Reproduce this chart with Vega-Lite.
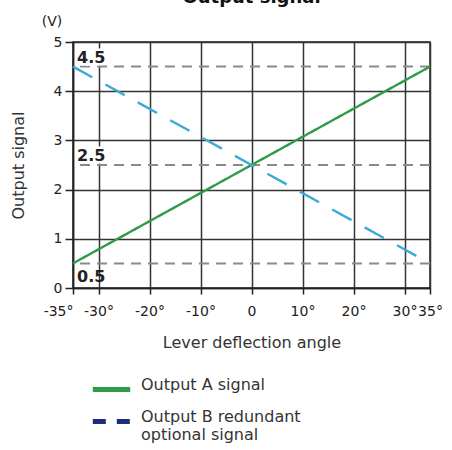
{
  "$schema": "https://vega.github.io/schema/vega-lite/v6.json",
  "width": 357,
  "height": 246,
  "autosize": {"type": "none"},
  "padding": {"left": 73, "top": 42, "right": 22, "bottom": 162},
  "config": {
    "font": "DejaVu Sans",
    "view": {"stroke": "#222", "strokeWidth": 1.5}
  },
  "title": {
    "text": "Output signal",
    "fontSize": 18,
    "fontWeight": "bold",
    "color": "#111",
    "frame": "group",
    "anchor": "middle",
    "offset": -6,
    "baseline": "alphabetic"
  },
  "datasets": {
    "lines": [
      {"angle": -35, "signal": 0.5, "series": "A"},
      {"angle": 35, "signal": 4.5, "series": "A"},
      {"angle": -35, "signal": 4.5, "series": "B"},
      {"angle": 35, "signal": 0.5, "series": "B"}
    ],
    "refs": [
      {"level": 4.5, "label": "4.5"},
      {"level": 2.5, "label": "2.5"},
      {"level": 0.5, "label": "0.5"}
    ]
  },
  "layer": [
    {
      "data": {"name": "refs"},
      "mark": {"type": "rule", "stroke": "#8a8a8a", "strokeWidth": 2, "strokeDash": [10, 7]},
      "encoding": {
        "y": {"field": "level", "type": "quantitative", "scale": {"domain": [0, 5]}}
      }
    },
    {
      "data": {"name": "refs"},
      "transform": [{"filter": "datum.level > 1"}],
      "mark": {"type": "text", "align": "left", "baseline": "bottom", "dx": 4, "dy": -1, "fontSize": 16, "fontWeight": "bold", "fill": "white", "stroke": "white", "strokeWidth": 5},
      "encoding": {
        "x": {"datum": -35, "type": "quantitative"},
        "y": {"field": "level", "type": "quantitative"},
        "text": {"field": "label"}
      }
    },
    {
      "data": {"name": "refs"},
      "transform": [{"filter": "datum.level > 1"}],
      "mark": {"type": "text", "align": "left", "baseline": "bottom", "dx": 4, "dy": -1, "fontSize": 16, "fontWeight": "bold", "fill": "#222"},
      "encoding": {
        "x": {"datum": -35, "type": "quantitative"},
        "y": {"field": "level", "type": "quantitative"},
        "text": {"field": "label"}
      }
    },
    {
      "data": {"name": "refs"},
      "transform": [{"filter": "datum.level < 1"}],
      "mark": {"type": "text", "align": "left", "baseline": "top", "dx": 4, "dy": 6, "fontSize": 16, "fontWeight": "bold", "fill": "#222"},
      "encoding": {
        "x": {"datum": -35, "type": "quantitative"},
        "y": {"field": "level", "type": "quantitative"},
        "text": {"field": "label"}
      }
    },
    {
      "data": {"name": "lines"},
      "mark": {"type": "line", "strokeWidth": 2.4},
      "encoding": {
        "x": {
          "field": "angle",
          "type": "quantitative",
          "scale": {"domain": [-35, 35], "nice": false},
          "axis": {
            "title": "Lever deflection angle",
            "titleFontSize": 16,
            "titleFontWeight": "normal",
            "titleColor": "#333",
            "titlePadding": 16,
            "values": [-35, -30, -20, -10, 0, 10, 20, 30, 35],
            "labelExpr": "datum.value == 0 ? '0' : datum.value + '°'",
            "labelFlush": false,
            "labelOverlap": false,
            "labelFontSize": 14,
            "labelColor": "#222",
            "labelPadding": 10,
            "labelAlign": {"condition": {"test": "datum.value == -35", "value": "right"}, "value": "center"},
            "tickSize": 6,
            "tickColor": "#222",
            "tickWidth": 1.5,
            "domainColor": "#222",
            "domainWidth": 1.5,
            "grid": true,
            "gridColor": "#333",
            "gridWidth": 1.5
          }
        },
        "y": {
          "field": "signal",
          "type": "quantitative",
          "scale": {"domain": [0, 5], "nice": false},
          "axis": {
            "title": "Output signal",
            "titleFontSize": 16,
            "titleFontWeight": "normal",
            "titleColor": "#333",
            "titlePadding": 27,
            "values": [0, 0.5, 1, 1.5, 2, 2.5, 3, 3.5, 4, 4.5, 5],
            "labelExpr": "datum.value == 4.5 ? '(V)' : (datum.value % 1 == 0 ? datum.label : '')",
            "labelOverlap": false,
            "labelFontSize": 14,
            "labelColor": "#222",
            "labelPadding": 3,
            "tickSize": {"condition": {"test": "datum.value % 1 != 0", "value": 3}, "value": 8},
            "tickColor": "#222",
            "tickWidth": 1.5,
            "domainColor": "#222",
            "domainWidth": 1.5,
            "grid": true,
            "gridColor": "#333",
            "gridWidth": 1.5,
            "gridOpacity": {"condition": {"test": "datum.value % 1 != 0", "value": 0}, "value": 1}
          }
        },
        "detail": {"field": "series", "type": "nominal"},
        "stroke": {"condition": {"test": "datum.series == 'B'", "value": "#3aaad8"}, "value": "#2e9b47"},
        "strokeDash": {"condition": {"test": "datum.series == 'B'", "value": [22, 15]}, "value": [1, 0]}
      }
    },
    {
      "data": {"name": "lines"},
      "transform": [{"filter": "false"}],
      "mark": {"type": "line", "strokeWidth": 5},
      "encoding": {
        "x": {"field": "angle", "type": "quantitative"},
        "y": {"field": "signal", "type": "quantitative"},
        "color": {
          "field": "series",
          "type": "nominal",
          "scale": {"domain": ["A", "B"], "range": ["#2e9b47", "#1f2d7a"]},
          "legend": {
            "title": null,
            "orient": "none",
            "legendX": 17,
            "legendY": 326,
            "symbolType": "stroke",
            "symbolSize": 1400,
            "symbolStrokeWidth": 5,
            "labelExpr": "datum.value == 'A' ? 'Output A signal' : ['Output B redundant', 'optional signal']",
            "labelFontSize": 16,
            "labelColor": "#333",
            "labelOffset": 8,
            "labelBaseline": "alphabetic",
            "labelLimit": 0,
            "rowPadding": -9
          }
        },
        "strokeDash": {
          "field": "series",
          "type": "nominal",
          "scale": {"domain": ["A", "B"], "range": [[1, 0], [13, 11]]},
          "legend": {
            "title": null,
            "orient": "none",
            "legendX": 17,
            "legendY": 326,
            "symbolType": "stroke",
            "symbolSize": 1400,
            "symbolStrokeWidth": 5,
            "labelExpr": "datum.value == 'A' ? 'Output A signal' : ['Output B redundant', 'optional signal']",
            "labelFontSize": 16,
            "labelColor": "#333",
            "labelOffset": 8,
            "labelBaseline": "alphabetic",
            "labelLimit": 0,
            "rowPadding": -9
          }
        }
      }
    },
    {
      "data": {"values": [{"unit": "(V)"}]},
      "mark": {"type": "text", "align": "center", "baseline": "middle", "dx": -21, "dy": -20, "fontSize": 14, "fill": "#222"},
      "encoding": {
        "x": {"datum": -35, "type": "quantitative"},
        "y": {"datum": 5, "type": "quantitative"},
        "text": {"field": "unit"}
      }
    }
  ]
}
